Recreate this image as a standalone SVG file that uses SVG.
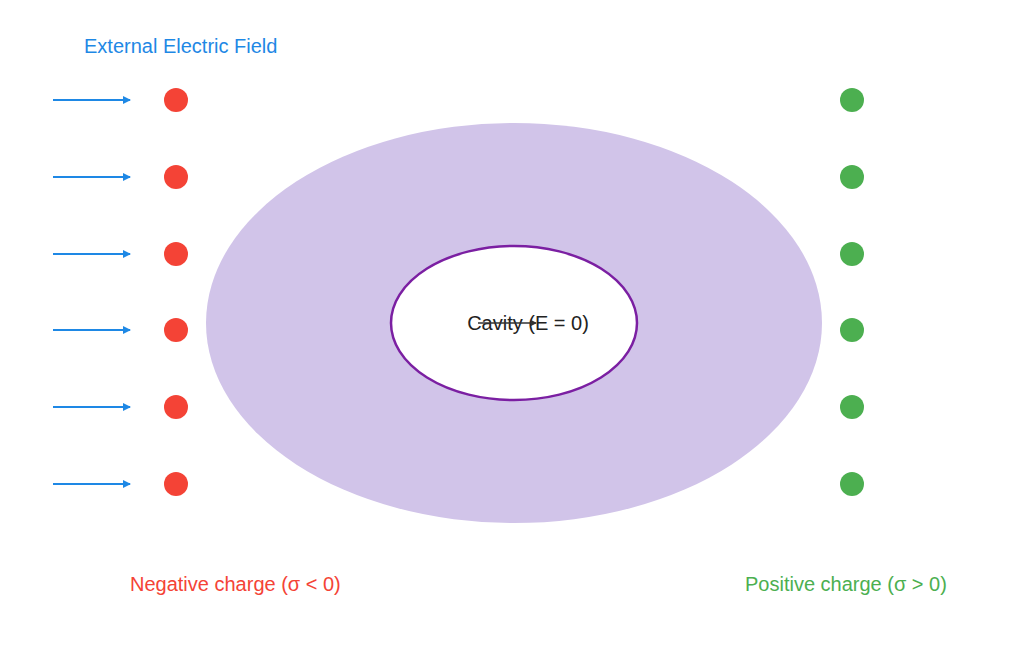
<svg xmlns="http://www.w3.org/2000/svg" width="1024" height="647" viewBox="0 0 1024 647">
<style>
.t{font-family:"Liberation Sans",Arial,sans-serif;font-size:20px}
.f{stroke:#1e88e5;stroke-width:2;fill:none;marker-end:url(#ah)}
.n{fill:#f44336}.p{fill:#4caf50}
</style>
<defs>
<marker id="ah" markerWidth="8" markerHeight="8" refX="7" refY="4" orient="auto" markerUnits="userSpaceOnUse"><path d="M0,0L8,4L0,8z" fill="#1e88e5"/></marker>
<marker id="ah2" markerWidth="6" markerHeight="6" refX="5" refY="3" orient="auto" markerUnits="userSpaceOnUse"><path d="M0,0L6,3L0,6z" fill="#333"/></marker>
</defs>
<rect width="1024" height="647" fill="#fff"/>
<g id="conductor"><ellipse cx="514" cy="323" rx="308" ry="200" fill="#d1c4e9"/></g>
<g id="cavity"><ellipse cx="514" cy="323" rx="123" ry="77" fill="#fff" stroke="#7b1fa2" stroke-width="2.5"/>
<text class="t" x="528" y="330" text-anchor="middle" fill="#222">Cavity (E = 0)</text></g>
<g id="connectors">
<path class="f" d="M53,100H130"/><path class="f" d="M53,177H130"/><path class="f" d="M53,254H130"/>
<path class="f" d="M53,330H130"/><path class="f" d="M53,407H130"/><path class="f" d="M53,484H130"/>
<path d="M478,323H536" stroke="#333" stroke-width="1.5" marker-end="url(#ah2)"/>
</g>
<g id="negative"><circle class="n" cx="176" cy="100" r="12"/><circle class="n" cx="176" cy="177" r="12"/><circle class="n" cx="176" cy="254" r="12"/><circle class="n" cx="176" cy="330" r="12"/><circle class="n" cx="176" cy="407" r="12"/><circle class="n" cx="176" cy="484" r="12"/></g>
<g id="positive"><circle class="p" cx="852" cy="100" r="12"/><circle class="p" cx="852" cy="177" r="12"/><circle class="p" cx="852" cy="254" r="12"/><circle class="p" cx="852" cy="330" r="12"/><circle class="p" cx="852" cy="407" r="12"/><circle class="p" cx="852" cy="484" r="12"/></g>
<g id="labels">
<text class="t" x="84" y="53" fill="#1e88e5">External Electric Field</text>
<text class="t" x="130" y="591" fill="#f44336">Negative charge (σ &lt; 0)</text>
<text class="t" x="745" y="591" fill="#4caf50">Positive charge (σ &gt; 0)</text>
</g>
</svg>
